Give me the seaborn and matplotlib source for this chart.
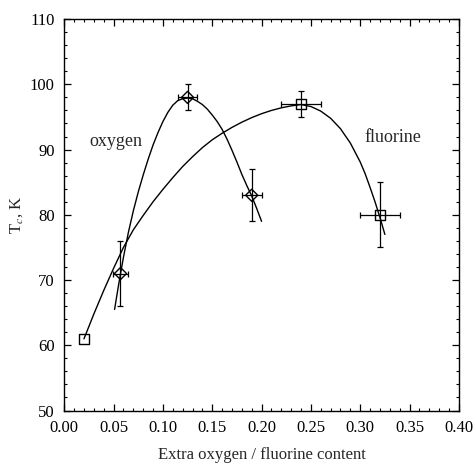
import seaborn as sns
import matplotlib.pyplot as plt
import numpy as np
import pandas as pd

# measured points
oxy_x = [0.057, 0.125, 0.19]
oxy_y = [71, 98, 83]
oxy_xerr = [0.008, 0.01, 0.01]
oxy_yerr = [5, 2, 4]

flu_x = [0.02, 0.24, 0.32]
flu_y = [61, 97, 80]
flu_xerr = [0.0, 0.02, 0.02]
flu_yerr = [0, 2, 5]

# guide-to-the-eye curves
oxy_curve_x = [0.051, 0.055, 0.060, 0.065, 0.070, 0.075, 0.080, 0.085, 0.090,
               0.095, 0.100, 0.105, 0.110, 0.115, 0.120, 0.125, 0.130, 0.135,
               0.140, 0.145, 0.150, 0.155, 0.160, 0.165, 0.170, 0.175, 0.180,
               0.185, 0.190, 0.195, 0.200]
oxy_curve_y = [65.5, 69.2, 73.5, 77.3, 80.6, 83.5, 86.1, 88.5, 90.7,
               92.6, 94.3, 95.7, 96.8, 97.5, 97.8, 97.9, 97.8, 97.4,
               96.9, 96.2, 95.3, 94.3, 93.1, 91.6, 89.9, 88.1, 86.2,
               84.5, 82.9, 81.0, 79.0]

flu_curve_x = [0.020, 0.030, 0.040, 0.050, 0.060, 0.070, 0.080, 0.090, 0.100,
               0.110, 0.120, 0.130, 0.140, 0.150, 0.160, 0.170, 0.180, 0.190,
               0.200, 0.210, 0.220, 0.230, 0.240, 0.250, 0.260, 0.270, 0.280,
               0.290, 0.300, 0.305, 0.310, 0.315, 0.320, 0.325]
flu_curve_y = [61.0, 64.8, 68.4, 71.8, 75.0, 77.7, 79.9, 82.0, 83.9,
               85.7, 87.4, 88.9, 90.3, 91.5, 92.5, 93.4, 94.2, 94.9,
               95.5, 96.0, 96.4, 96.7, 96.9, 96.6, 95.9, 94.8, 93.2,
               91.0, 88.1, 86.3, 84.2, 82.0, 79.6, 77.0]

sns.set_theme(style="ticks")
plt.rcParams['font.family'] = ['Liberation Serif', 'DejaVu Serif']
plt.rcParams['mathtext.fontset'] = 'stix'

fig = plt.figure(figsize=(4.76, 4.66), dpi=100)
ax = fig.add_axes([0.135, 0.119, 0.829, 0.840])

curves = pd.concat([
    pd.DataFrame({"x": oxy_curve_x, "y": oxy_curve_y, "s": "oxygen"}),
    pd.DataFrame({"x": flu_curve_x, "y": flu_curve_y, "s": "fluorine"}),
])
sns.lineplot(data=curves, x="x", y="y", units="s", estimator=None,
             color="black", linewidth=1.0, sort=False, ax=ax)

ax.errorbar(oxy_x, oxy_y, xerr=oxy_xerr, yerr=oxy_yerr, fmt="none",
            ecolor="black", elinewidth=0.9, capsize=2.5, capthick=0.9)
ax.errorbar(flu_x[1:], flu_y[1:], xerr=flu_xerr[1:], yerr=flu_yerr[1:], fmt="none",
            ecolor="black", elinewidth=0.9, capsize=2.5, capthick=0.9)

sns.scatterplot(x=oxy_x, y=oxy_y, marker="D", s=38, facecolor="none",
                edgecolor="black", linewidth=1.0, ax=ax, zorder=5)
sns.scatterplot(x=flu_x, y=flu_y, marker="s", s=55, facecolor="none",
                edgecolor="black", linewidth=1.0, ax=ax, zorder=5)

ax.text(0.052, 91.2, "oxygen", ha="center", va="center", fontsize=13)
ax.text(0.333, 91.8, "fluorine", ha="center", va="center", fontsize=13)

ax.set_xlim(0.0, 0.4)
ax.set_ylim(50, 110)
ax.set_xticks(np.arange(0, 0.41, 0.05))
ax.set_xticks(np.arange(0, 0.401, 0.01), minor=True)
ax.set_yticks(np.arange(50, 111, 10))
ax.set_yticks(np.arange(50, 111, 2), minor=True)
ax.xaxis.set_major_formatter(plt.FormatStrFormatter("%.2f"))

ax.tick_params(which="both", direction="in", top=True, right=True,
               colors="black", labelsize=12)
ax.tick_params(which="major", length=5, width=0.9, pad=7)
ax.tick_params(which="minor", length=2.5, width=0.8)
for sp in ax.spines.values():
    sp.set_color("black")
    sp.set_linewidth(1.0)

ax.set_xlabel("Extra oxygen / fluorine content", fontsize=12, labelpad=8)
ax.set_ylabel("T$_c$, K", fontsize=12, labelpad=3)

fig.savefig("out.png", dpi=100)
